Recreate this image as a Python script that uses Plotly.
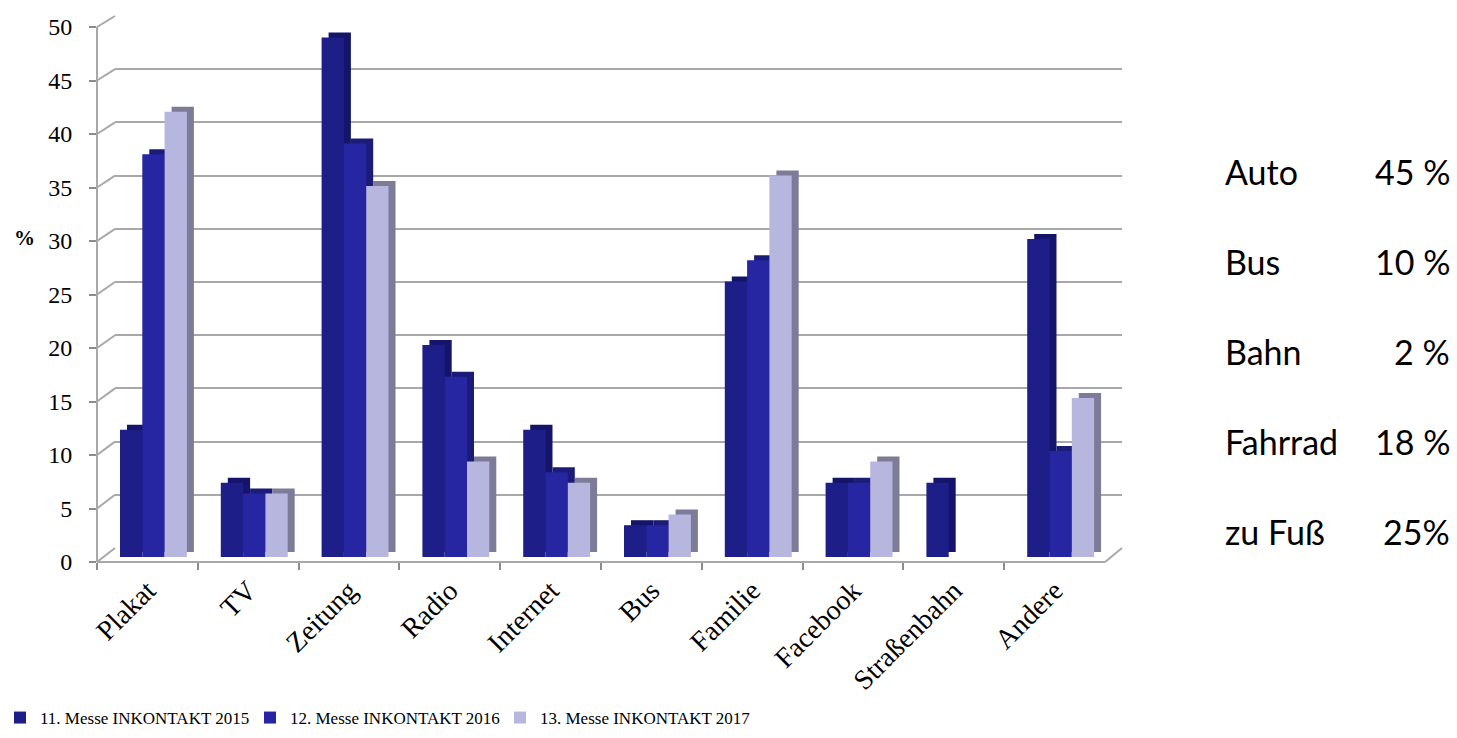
import plotly.graph_objects as go

# ---------------- data ----------------
categories = ["Plakat", "TV", "Zeitung", "Radio", "Internet", "Bus",
              "Familie", "Facebook", "Straßenbahn", "Andere"]
series_names = ["11. Messe INKONTAKT 2015", "12. Messe INKONTAKT 2016",
                "13. Messe INKONTAKT 2017"]
vals_2015 = [12, 7, 49, 20, 12, 3, 26, 7, 7, 30]
vals_2016 = [38, 6, 39, 17, 8, 3, 28, 7, 0, 10]
vals_2017 = [42, 6, 35, 9, 7, 4, 36, 9, 0, 15]
y_ticks = [0, 5, 10, 15, 20, 25, 30, 35, 40, 45, 50]
side_labels = ["Auto", "Bus", "Bahn", "Fahrrad", "zu Fuß"]
side_values = ["45 %", "10 %", "2 %", "18 %", "25%"]

# ---------------- styling ----------------
W, H = 1457, 738
def fx(p): return p / W
def fy(p): return 1 - p / H

front_cols = ["#1E1E88", "#2626A3", "#B6B6DE"]
side_cols = ["#14146A", "#1B1B78", "#7C7C98"]
SERIF = "Liberation Serif"
GRID = "#A8A8A8"

cat_px = (1105 - 97) / len(categories)      # pixel width of a category
unit_px = (557 - 27) / 50                   # pixels per value unit (bars)
BW = 22.3 / cat_px
OFF0 = (120 - (97 + cat_px / 2)) / cat_px
DX = 7 / cat_px
DY = 5 / unit_px

fig = go.Figure()

# back wall grid subplot (drawn first, beneath bars)
fig.add_trace(go.Scatter(x=[None], y=[None], xaxis="x", yaxis="y",
                         showlegend=False, hoverinfo="skip"))

all_vals = [vals_2015, vals_2016, vals_2017]
for k, vals in enumerate(all_vals):
    fig.add_trace(go.Bar(
        x=categories, y=vals, base=[DY] * len(vals),
        width=BW, offset=OFF0 + k * BW + DX,
        marker=dict(color=side_cols[k], line=dict(width=0)),
        xaxis="x2", yaxis="y2", showlegend=False, hoverinfo="skip"))
    fig.add_trace(go.Bar(
        x=categories, y=vals, name=series_names[k],
        width=BW, offset=OFF0 + k * BW,
        marker=dict(color=front_cols[k], line=dict(width=0)),
        xaxis="x2", yaxis="y2"))

# front axis labels subplot
fig.add_trace(go.Scatter(x=[None], y=[None], xaxis="x2", yaxis="y3",
                         showlegend=False, hoverinfo="skip"))

shapes = []
# connectors from front axis to back grid lines
for v in y_ticks:
    yf = fy(562) + v / 50 * (fy(27) - fy(562))
    yb = fy(548) + v / 50 * (fy(16) - fy(548))
    shapes.append(dict(type="line", xref="paper", yref="paper",
                       x0=fx(97), y0=yf, x1=fx(115), y1=yb,
                       line=dict(color=GRID, width=2), layer="below"))
# right floor edge
shapes.append(dict(type="line", xref="paper", yref="paper",
                   x0=fx(1105), y0=fy(562), x1=fx(1122), y1=fy(548),
                   line=dict(color=GRID, width=2), layer="below"))

annotations = [dict(text="<b>%</b>", x=fx(24), y=fy(238), xref="paper",
                    yref="paper", xanchor="center", yanchor="middle",
                    showarrow=False,
                    font=dict(family=SERIF, size=21, color="black"))]
for i, (lab, val) in enumerate(zip(side_labels, side_values)):
    ypos = fy(171 + i * 90)
    annotations.append(dict(text=lab, x=fx(1223), y=ypos, xref="paper",
                            yref="paper", xanchor="left", yanchor="middle",
                            showarrow=False,
                            font=dict(family="Lato", size=34, color="black")))
    annotations.append(dict(text=val, x=fx(1452), y=ypos, xref="paper",
                            yref="paper", xanchor="right", yanchor="middle",
                            showarrow=False,
                            font=dict(family="Lato", size=34, color="black")))

fig.update_layout(
    width=W, height=H,
    margin=dict(l=0, r=0, t=0, b=0, autoexpand=False),
    paper_bgcolor="white", plot_bgcolor="rgba(0,0,0,0)",
    barmode="overlay",
    xaxis=dict(domain=[fx(115), fx(1122)], range=[0, 1], visible=False,
               anchor="y"),
    yaxis=dict(domain=[fy(548), fy(16)], range=[0, 50], tickvals=y_ticks,
               showgrid=True, gridcolor=GRID, gridwidth=2,
               showticklabels=False, ticks="", zeroline=False,
               showline=False, anchor="x"),
    xaxis2=dict(domain=[fx(97), fx(1105)], type="category",
                range=[-0.5, len(categories) - 0.5],
                anchor="free", position=fy(562),
                showline=True, linecolor=GRID, linewidth=2,
                ticks="outside", tickson="boundaries", ticklen=7,
                tickcolor="#8C8C8C", tickwidth=2, tickangle=-45,
                tickfont=dict(family=SERIF, size=28, color="black"),
                showgrid=False, zeroline=False),
    yaxis2=dict(domain=[fy(557), fy(27)], range=[0, 50], visible=False,
                anchor="x2"),
    yaxis3=dict(domain=[fy(562), fy(27)], range=[0, 50], tickvals=y_ticks,
                anchor="free", position=fx(97),
                showline=True, linecolor=GRID, linewidth=2,
                ticks="outside", ticklen=7, tickcolor="#8C8C8C", tickwidth=2,
                ticklabelstandoff=12,
                tickfont=dict(family=SERIF, size=24, color="black"),
                showgrid=False, zeroline=False),
    legend=dict(orientation="h", x=0, y=fy(718), xanchor="left",
                yanchor="middle", font=dict(family=SERIF, size=17,
                                            color="black"),
                bgcolor="rgba(0,0,0,0)", traceorder="normal",
                entrywidth=205, entrywidthmode="pixels"),
    shapes=shapes,
    annotations=annotations,
)

fig.write_html("out.html", config={"displayModeBar": False},
               post_script="document.body.style.margin='0px';")
